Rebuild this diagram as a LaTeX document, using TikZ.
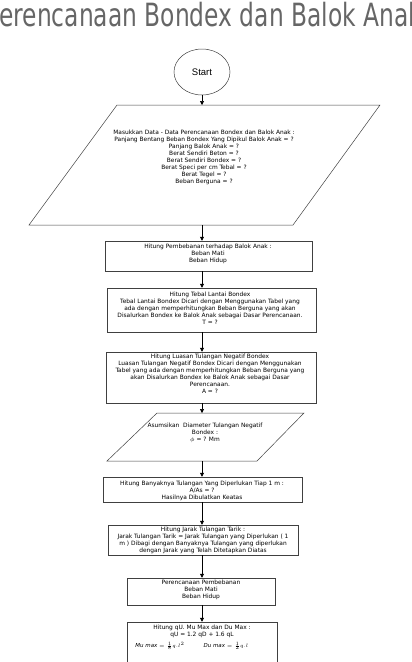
\documentclass[tikz,border=0pt]{standalone}
\usepackage{fontspec}
\setmainfont{DejaVu Sans}
\newfontfamily\startfont{Liberation Sans}
\usetikzlibrary{shapes.geometric,arrows.meta}
\begin{document}
\begin{tikzpicture}[x=1pt,y=-1pt,
  shp/.style={draw=black!75, line width=0.5pt},
  box/.style={shp, rectangle, inner sep=0pt},
  txt/.style={font=\fontsize{5.9}{7}\selectfont, align=center, anchor=north, inner sep=0pt},
  arr/.style={draw=black, line width=0.6pt, -{Triangle[length=4pt,width=4pt]}}]
\useasboundingbox (0,0) rectangle (412,662);
\clip (0,0) rectangle (412,662);
% title
\node[anchor=base, inner sep=0pt, text=black!60, font=\fontsize{32}{32}\selectfont] (title) at (204,26) {\scalebox{0.73}[1]{Perencanaan Bondex dan Balok Anak}};
\coordinate (axis) at (202,0);
% start
\node[shp, ellipse, minimum width=56pt, minimum height=46pt, inner sep=0pt, font=\startfont\fontsize{9.5}{9.5}\selectfont] (start) at (202,72) {Start};
% parallelogram 1
\coordinate (p1a) at (117,105); \coordinate (p1b) at (380,105);
\coordinate (p1c) at (293,225); \coordinate (p1d) at (29,225);
\draw[shp] (p1a) -- (p1b) -- (p1c) -- (p1d) -- cycle;
\coordinate (p1top) at (202,105); \coordinate (p1bot) at (202,225);
\node[txt] (t1) at (204,130) {Masukkan Data - Data Perencanaan Bondex dan Balok Anak :\\Panjang Bentang Beban Bondex Yang Dipikul Balok Anak = ?\\Panjang Balok Anak = ?\\Berat Sendiri Beton = ?\\Berat Sendiri Bondex = ?\\Berat Speci per cm Tebal = ?\\Berat Tegel = ?\\Beban Berguna = ?};
% boxes
\node[box, minimum width=207pt, minimum height=30pt] (b1) at (208.5,256) {};
\node[txt] (t2) at (208,244) {Hitung Pembebanan terhadap Balok Anak :\\Beban Mati\\Beban Hidup};
\node[box, minimum width=209pt, minimum height=44pt] (b2) at (211.5,310) {};
\node[txt] (t3) at (210,292) {Hitung Tebal Lantai Bondex\\Tebal Lantai Bondex Dicari dengan Menggunakan Tabel yang\\ada dengan memperhitungkan Beban Berguna yang akan\\Disalurkan Bondex ke Balok Anak sebagai Dasar Perencanaan.\\T = ?};
\node[box, minimum width=210pt, minimum height=51pt] (b3) at (211,377.5) {};
\node[txt] (t4) at (210,354) {Hitung Luasan Tulangan Negatif Bondex\\Luasan Tulangan Negatif Bondex Dicari dengan Menggunakan\\Tabel yang ada dengan memperhitungkan Beban Berguna yang\\akan Disalurkan Bondex ke Balok Anak sebagai Dasar\\Perencanaan.\\A = ?};
% parallelogram 2
\coordinate (p2a) at (157,413); \coordinate (p2b) at (304,413);
\coordinate (p2c) at (257,461); \coordinate (p2d) at (107,461);
\draw[shp] (p2a) -- (p2b) -- (p2c) -- (p2d) -- cycle;
\coordinate (p2top) at (202,413); \coordinate (p2bot) at (202,461);
\node[txt] (t5) at (205,423) {Asumsikan\ \ Diameter Tulangan Negatif\\Bondex :\\$\phi$ = ? Mm};
\node[box, minimum width=199pt, minimum height=25pt] (b4) at (202.5,489.5) {};
\node[txt] (t6) at (202,480.5) {Hitung Banyaknya Tulangan Yang Diperlukan Tiap 1 m :\\A/As = ?\\Hasilnya Dibulatkan Keatas};
\node[box, minimum width=190pt, minimum height=30pt] (b5) at (203,540) {};
\node[txt] (t7) at (203,527) {Hitung Jarak Tulangan Tarik :\\Jarak Tulangan Tarik = Jarak Tulangan yang Diperlukan ( 1\\m ) Dibagi dengan Banyaknya Tulangan yang diperlukan\\dengan Jarak yang Telah Ditetapkan Diatas};
\node[box, minimum width=148pt, minimum height=27pt] (b6) at (201,591.5) {};
\node[txt] (t8) at (201,580) {Perencanaan Pembebanan\\Beban Mati\\Beban Hidup};
\node[box, minimum width=150pt, minimum height=78pt] (b7) at (202,661) {};
\node[txt] (t9) at (202,624.5) {Hitung qU. Mu Max dan Du Max :\\qU = 1.2 qD + 1.6 qL};
\node[inner sep=0pt, font=\fontsize{5.5}{5.5}\selectfont] (f1) at (160,646) {$\mathit{Mu\ max}=\frac{1}{8}q.l^{2}$};
\node[inner sep=0pt, font=\fontsize{5.5}{5.5}\selectfont] (f2) at (226,646) {$\mathit{Du\ max}=\frac{1}{2}q.l$};
% arrows
\draw[arr] (start.south -| axis) -- (p1top);
\draw[arr] (p1bot) -- (b1.north -| axis);
\draw[arr] (b1.south -| axis) -- (b2.north -| axis);
\draw[arr] (b2.south -| axis) -- (b3.north -| axis);
\draw[arr] (b3.south -| axis) -- (p2top);
\draw[arr] (p2bot) -- (b4.north -| axis);
\draw[arr] (b4.south -| axis) -- (b5.north -| axis);
\draw[arr] (b5.south -| axis) -- (b6.north -| axis);
\draw[arr] (b6.south -| axis) -- (b7.north -| axis);
\end{tikzpicture}
\end{document}
